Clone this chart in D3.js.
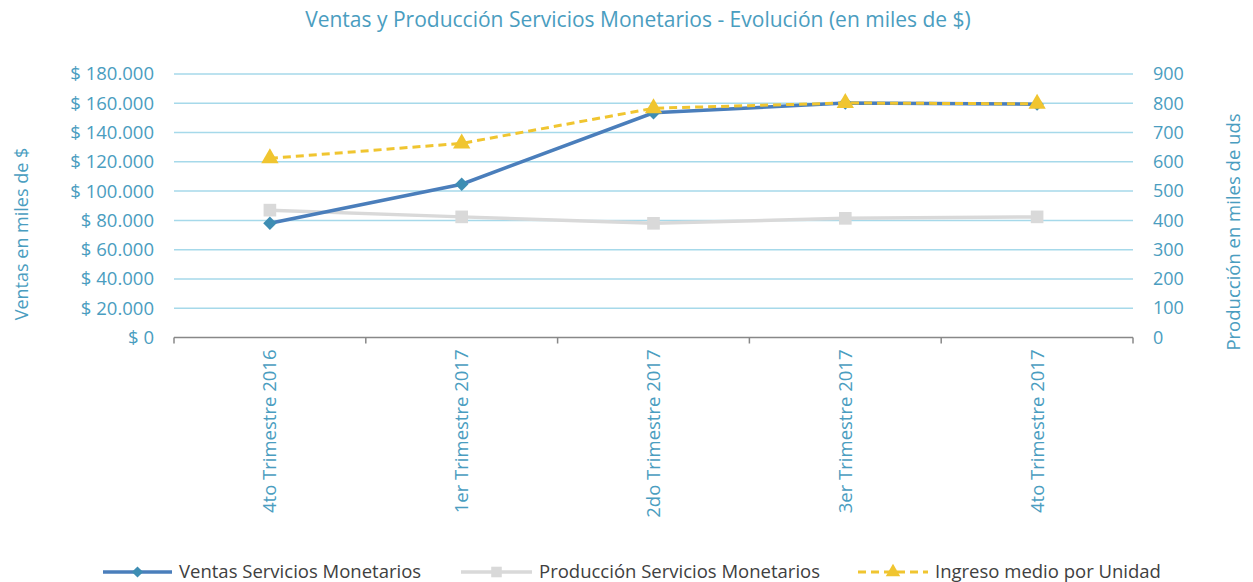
<!DOCTYPE html>
<html>
<head>
<meta charset="utf-8">
<script src="https://cdn.jsdelivr.net/npm/d3@7.9.0/dist/d3.min.js"></script>
<style>
  body { margin: 0; background: #fff; }
  svg text { font-family: "Open Sans", sans-serif; fill: #4A9DC0; }
</style>
</head>
<body>
<div id="viz"></div>
<script>
// Data
const categories = ["4to Trimestre 2016", "1er Trimestre 2017", "2do Trimestre 2017", "3er Trimestre 2017", "4to Trimestre 2017"];
const ventas = [78000, 104700, 153500, 160200, 159400];      // left axis
const produccion = [435, 412, 390, 407, 412];                // right axis
const ingresoMedio = [612, 663, 783, 801, 798];              // right axis
const leftTicks = [0, 20000, 40000, 60000, 80000, 100000, 120000, 140000, 160000, 180000];
const rightTicks = [0, 100, 200, 300, 400, 500, 600, 700, 800, 900];

const W = 1253, H = 582;
const plot = {left: 174, right: 1133, top: 74, bottom: 337.5};

const svg = d3.select("#viz").append("svg")
  .attr("width", W).attr("height", H);

const x = d3.scaleBand().domain(categories).range([plot.left, plot.right]);
const yL = d3.scaleLinear().domain([0, 180000]).range([plot.bottom, plot.top]);
const yR = d3.scaleLinear().domain([0, 900]).range([plot.bottom, plot.top]);
const fmt = v => "$ " + d3.format(",")(v).replace(/,/g, ".");

// square-ish diamond like Excel's marker
const diamond = {
  draw(ctx, size) {
    const r = Math.sqrt(size / 2);
    ctx.moveTo(0, -r); ctx.lineTo(r, 0); ctx.lineTo(0, r); ctx.lineTo(-r, 0); ctx.closePath();
  }
};

// title
svg.append("text")
  .attr("x", 638).attr("y", 27)
  .attr("text-anchor", "middle")
  .style("font-size", "21px")
  .text("Ventas y Producción Servicios Monetarios - Evolución (en miles de $)");

// gridlines
svg.append("g").selectAll("line")
  .data(leftTicks.filter(d => d > 0))
  .join("line")
  .attr("x1", plot.left).attr("x2", plot.right)
  .attr("y1", d => yL(d)).attr("y2", d => yL(d))
  .attr("stroke", "#A6D9EA").attr("stroke-width", 1.5);

// left axis
const left = svg.append("g")
  .attr("transform", `translate(${plot.left},0)`)
  .call(d3.axisLeft(yL).tickValues(leftTicks).tickFormat(fmt).tickSize(0).tickPadding(20));
left.select(".domain").remove();
left.selectAll("text").style("font-size", "18.5px").attr("fill", "#4A9DC0");

// right axis
const right = svg.append("g")
  .attr("transform", `translate(${plot.right},0)`)
  .call(d3.axisRight(yR).tickValues(rightTicks).tickSize(0).tickPadding(20));
right.select(".domain").remove();
right.selectAll("text").style("font-size", "18px").attr("fill", "#4A9DC0");

// x axis
const bottom = svg.append("g")
  .attr("transform", `translate(0,${plot.bottom})`)
  .call(d3.axisBottom(x).tickSize(0).tickPadding(0));
bottom.select(".domain").attr("stroke", "#888").attr("stroke-width", 1.5)
  .attr("d", `M${plot.left},0H${plot.right}`);
bottom.selectAll(".tick line").remove();
bottom.selectAll(".tick text")
  .style("font-size", "18.5px")
  .attr("fill", "#4A9DC0")
  .attr("text-anchor", "end")
  .attr("dy", "0.35em")
  .attr("transform", "translate(0,12) rotate(-90)");
// category boundary ticks
const bounds = categories.map(c => x(c)).concat([plot.right]);
svg.append("g").selectAll("line")
  .data(bounds)
  .join("line")
  .attr("x1", d => d).attr("x2", d => d)
  .attr("y1", plot.bottom).attr("y2", plot.bottom + 6)
  .attr("stroke", "#888").attr("stroke-width", 1.5);

// axis titles
svg.append("text")
  .attr("transform", `translate(28,234) rotate(-90)`)
  .attr("text-anchor", "middle")
  .style("font-size", "18px")
  .text("Ventas en miles de $");
svg.append("text")
  .attr("transform", `translate(1240,232) rotate(-90)`)
  .attr("text-anchor", "middle")
  .style("font-size", "18.5px")
  .text("Producción en miles de uds");

const cx = i => x(categories[i]) + x.bandwidth() / 2;

// series
const series = [
  {name: "Producción Servicios Monetarios", values: produccion, y: yR, color: "#D9D9D9", marker: "#D9D9D9", dash: null, symbol: d3.symbolSquare, size: 160},
  {name: "Ventas Servicios Monetarios", values: ventas, y: yL, color: "#4A7EBB", marker: "#3E8DB3", dash: null, symbol: diamond, size: 90},
  {name: "Ingreso medio por Unidad", values: ingresoMedio, y: yR, color: "#F0C530", marker: "#F0C530", dash: "8,5", symbol: d3.symbolTriangle, size: 130}
];

series.forEach(s => {
  svg.append("path")
    .datum(s.values)
    .attr("fill", "none")
    .attr("stroke", s.color)
    .attr("stroke-width", s.dash ? 3 : 3.5)
    .attr("stroke-dasharray", s.dash)
    .attr("d", d3.line().x((d, i) => cx(i)).y(d => s.y(d)));
  svg.append("g").selectAll("path")
    .data(s.values)
    .join("path")
    .attr("transform", (d, i) => `translate(${cx(i)},${s.y(d)})`)
    .attr("d", d3.symbol().type(s.symbol).size(s.size))
    .attr("fill", s.marker);
});

// legend
const legendItems = [
  {s: series[1], x0: 103, x1: 172, tx: 179},
  {s: series[0], x0: 461, x1: 532, tx: 539},
  {s: series[2], x0: 858, x1: 928, tx: 935}
];
const lg = svg.append("g");
legendItems.forEach(it => {
  const ly = 572;
  lg.append("line")
    .attr("x1", it.x0).attr("x2", it.x1).attr("y1", ly).attr("y2", ly)
    .attr("stroke", it.s.color)
    .attr("stroke-width", it.s.dash ? 3 : 3.5)
    .attr("stroke-dasharray", it.s.dash);
  lg.append("path")
    .attr("transform", `translate(${(it.x0 + it.x1) / 2},${ly})`)
    .attr("d", d3.symbol().type(it.s.symbol).size(it.s.size * 0.7))
    .attr("fill", it.s.marker);
  lg.append("text")
    .attr("x", it.tx).attr("y", ly).attr("dy", "0.35em")
    .style("font-size", "18.5px")
    .style("fill", "#404040")
    .text(it.s.name);
});
</script>
</body>
</html>
